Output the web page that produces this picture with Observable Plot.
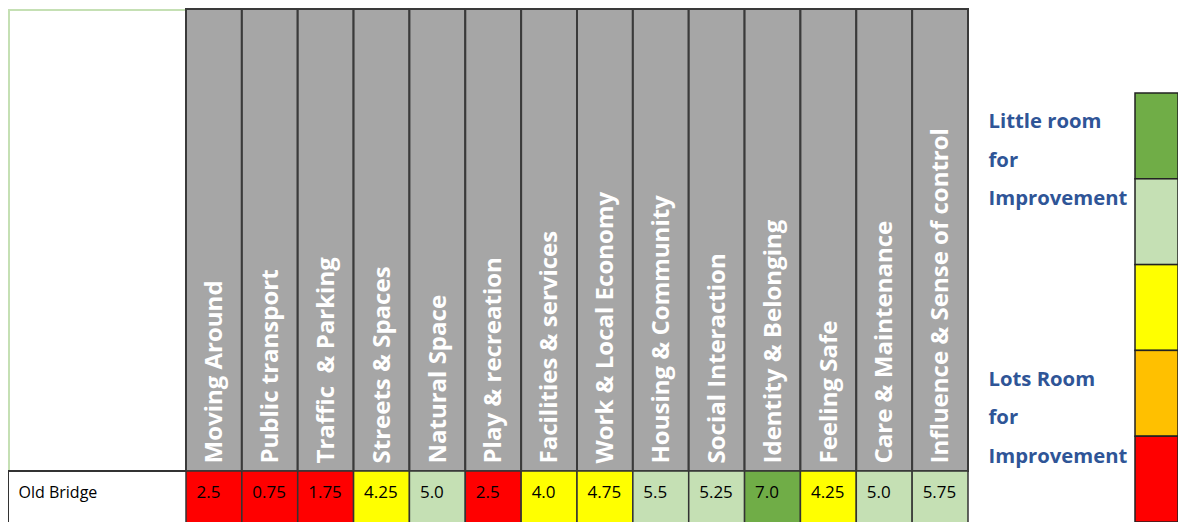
<!DOCTYPE html>
<html>
<head>
<meta charset="utf-8">
<script src="https://cdn.jsdelivr.net/npm/d3@7"></script>
<script src="https://cdn.jsdelivr.net/npm/@observablehq/plot@0.6"></script>
<style>
  body { margin: 0; background: #fff; }
  #wrap { position: relative; width: 1178px; height: 522px; overflow: hidden; background: #fff; }
  #wrap > div, #wrap > svg { position: absolute; }
  .labelHead { left: 8px; top: 9px; width: 178px; height: 462px; border-left: 2px solid #c5e0b4; border-top: 2px solid #c5e0b4; box-sizing: border-box; }
  .labelRow { left: 8px; top: 470px; width: 178px; height: 60px; border-left: 1px solid #333; border-top: 2px solid #333; box-sizing: border-box; }
</style>
</head>
<body>
<div id="wrap"></div>
<script>
// ---- data ----
const categories = [
  "Moving Around", "Public transport", "Traffic  & Parking", "Streets & Spaces",
  "Natural Space", "Play & recreation", "Facilities & services", "Work & Local Economy",
  "Housing & Community", "Social Interaction", "Identity & Belonging", "Feeling Safe",
  "Care & Maintenance", "Influence & Sense of control"
];
const places = ["Old Bridge"];
const scores = [2.5, 0.75, 1.75, 4.25, 5.0, 2.5, 4.0, 4.75, 5.5, 5.25, 7.0, 4.25, 5.0, 5.75];
const legendLevels = ["Excellent", "Good", "Fair", "Poor", "Very poor"];
const legendLabels = ["Little room\nfor\nImprovement", "Lots Room\nfor\nImprovement"];
const legendLabelLevels = ["Excellent", "Poor"];

// ---- styles ----
const palette = {Excellent: "#70ad47", Good: "#c5e0b4", Fair: "#ffff00", Poor: "#ffc000", "Very poor": "#ff0000"};
const thresholds = [3, 4, 5, 6];
const thresholdColors = ["#ff0000", "#ffc000", "#ffff00", "#c5e0b4", "#70ad47"];

const rows = categories.map((c, i) => ({category: c, place: places[0], score: scores[i]}));
const fmt = v => Number.isInteger(v) ? v.toFixed(1) : String(v);

const W = 1178, ML = 186, MR = 210;
const bw = (W - ML - MR) / categories.length;
const wrap = document.getElementById("wrap");

// header
const head = Plot.plot({
  width: W, height: 472, marginLeft: ML, marginRight: MR, marginTop: 9, marginBottom: 1,
  x: {domain: categories, padding: 0, round: false, axis: null},
  marks: [
    Plot.cell(categories, {x: d => d, fill: "#a6a6a6", stroke: "#3a3a3a", strokeWidth: 2}),
    Plot.text(categories, {
      x: d => d, text: d => d, rotate: -90, textAnchor: "start", lineAnchor: "middle",
      frameAnchor: "bottom", dy: -8, fill: "white", fontSize: 24, fontWeight: 700,
      fontFamily: "Open Sans"
    })
  ]
});
head.style.left = "0px"; head.style.top = "0px";

// data row
const body = Plot.plot({
  width: W, height: 60, marginLeft: ML, marginRight: MR, marginTop: 0, marginBottom: 0,
  x: {domain: categories, padding: 0, round: false, axis: null},
  y: {domain: places, padding: 0, round: false},
  color: {type: "threshold", domain: thresholds, range: thresholdColors},
  style: {fontFamily: "Open Sans", fontSize: "17px", color: "#000"},
  marks: [
    Plot.cell(rows, {x: "category", y: "place", fill: "score", stroke: "#333", strokeWidth: 1.5}),
    Plot.text(rows, {
      x: "category", y: "place", text: d => fmt(d.score), textAnchor: "start",
      dx: -bw / 2 + 10, dy: -9, fill: "#000", fontSize: 17, fontFamily: "Open Sans"
    }),
    Plot.axisY({tickSize: 0, textAnchor: "start", dx: -159, dy: -9, fontSize: 16, fill: "#000", label: null})
  ]
});
body.style.left = "0px"; body.style.top = "471px";

// legend
const legend = Plot.plot({
  width: MR, height: 522, marginLeft: 167, marginRight: 0, marginTop: 93, marginBottom: 0,
  y: {domain: legendLevels, padding: 0, round: false, axis: null},
  marks: [
    Plot.cell(legendLevels, {y: d => d, fill: d => palette[d], stroke: "#222", strokeWidth: 1.5}),
    Plot.text(legendLabels, {
      y: (d, i) => legendLabelLevels[i], text: d => d, frameAnchor: "left", textAnchor: "start",
      lineAnchor: "middle", dx: -147, dy: 18, fill: "#2f5597", fontSize: 20.3, fontWeight: 700,
      lineHeight: 1.9, fontFamily: "Open Sans"
    })
  ]
});
legend.style.left = (W - MR) + "px"; legend.style.top = "0px";

const lh = document.createElement("div"); lh.className = "labelHead";
const lr = document.createElement("div"); lr.className = "labelRow";
wrap.append(lh, head, body, lr, legend);
</script>
</body>
</html>
